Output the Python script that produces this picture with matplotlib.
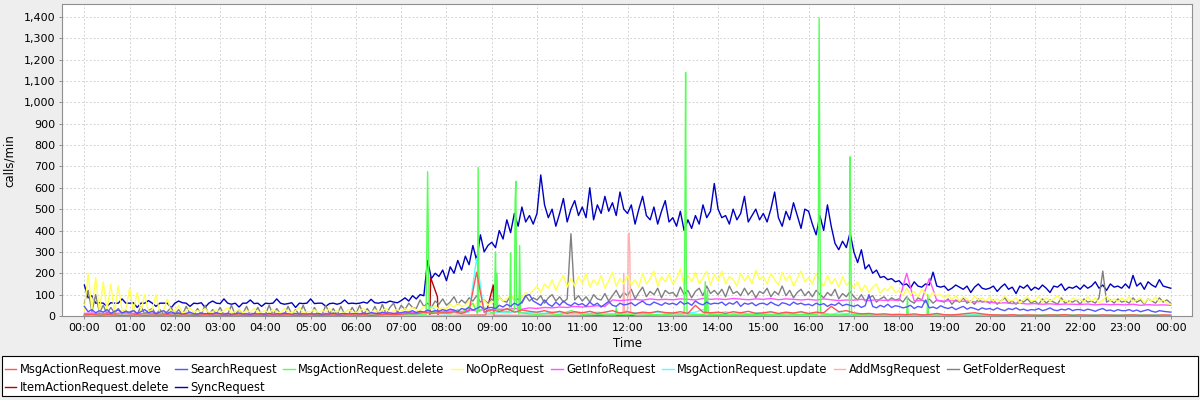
import numpy as np
import matplotlib.pyplot as plt
import matplotlib.ticker as ticker
from matplotlib.patches import Rectangle

# ---- data ----
# 5-minute samples from 00:00 to 24:00 (12 per row = one hour)
sync_request = [
    145, 85, 95, 60, 62, 60, 45, 62, 60, 60, 80, 60,
    60, 62, 40, 60, 60, 72, 60, 45, 60, 60, 60, 38,
    60, 70, 62, 60, 45, 60, 58, 62, 40, 60, 70, 60,
    58, 80, 60, 55, 60, 42, 60, 60, 75, 58, 60, 45,
    60, 58, 60, 80, 60, 55, 58, 62, 40, 60, 58, 60,
    80, 58, 60, 60, 45, 58, 60, 55, 60, 75, 58, 60,
    58, 60, 65, 60, 78, 62, 60, 65, 62, 70, 65, 62,
    72, 85, 70, 95, 80, 100, 95, 260, 175, 200, 185, 215,
    165, 230, 200, 260, 215, 280, 240, 330, 260, 380, 300, 330,
    345, 320, 400, 360, 450, 390, 480, 420, 510, 440, 470, 430,
    480, 660, 520, 460, 500, 420, 480, 550, 440, 500, 540, 470,
    510, 460, 600, 450, 520, 480, 560, 490, 530, 470, 580, 500,
    480, 520, 430, 500, 560, 470, 450, 510, 430, 490, 540, 440,
    460, 420, 490, 400, 450, 410, 470, 430, 520, 460, 490, 620,
    500, 460, 470, 430, 500, 450, 480, 560, 440, 470, 500, 450,
    480, 440, 500, 580, 460, 420, 490, 450, 530, 470, 410, 500,
    490, 430, 380, 470, 400, 520, 420, 340, 310, 350, 320, 390,
    300, 250, 310, 220, 240, 200, 215, 180, 185, 170, 175, 160,
    165, 145, 150, 130, 160, 140, 135, 150, 145, 205, 140, 135,
    140, 120, 130, 145, 135, 125, 140, 110, 135, 150, 130, 125,
    130, 140, 115, 135, 150, 125, 135, 105, 140, 130, 145, 120,
    135, 125, 145, 130, 110, 140, 135, 150, 120, 135, 130, 140,
    125, 145, 130, 140, 160, 130, 145, 120, 150, 135, 140, 130,
    150, 130, 190, 140, 155, 125, 160, 145, 135, 170, 140, 135,
    130,
]

noop_request = [
    25, 200, 30, 180, 20, 160, 25, 150, 20, 140, 25, 30,
    130, 20, 110, 25, 100, 20, 30, 100, 15, 25, 80, 20,
    25, 50, 15, 20, 40, 15, 25, 20, 35, 15, 20, 30,
    15, 25, 40, 15, 20, 30, 15, 25, 20, 35, 15, 20,
    25, 15, 30, 20, 15, 35, 20, 15, 25, 40, 15, 20,
    20, 30, 15, 25, 20, 35, 15, 25, 20, 15, 30, 20,
    15, 25, 35, 20, 15, 30, 20, 25, 35, 15, 25, 30,
    20, 35, 25, 40, 30, 25, 45, 30, 35, 50, 30, 40,
    35, 55, 40, 60, 45, 50, 70, 45, 60, 55, 75, 50,
    70, 60, 90, 70, 80, 100, 75, 95, 85, 110, 100, 120,
    140, 110, 150, 130, 170, 120, 160, 190, 135, 175, 140, 185,
    150, 200, 135, 170, 145, 190, 130, 165, 205, 140, 175, 150,
    190, 145, 170, 135, 200, 150, 175, 210, 140, 185, 160, 195,
    150, 175, 220, 140, 190, 160, 205, 150, 180, 210, 145, 195,
    165, 210, 150, 185, 170, 140, 200, 165, 190, 150, 215, 170,
    185, 150, 200, 170, 145, 205, 165, 190, 140, 175, 210, 160,
    180, 150, 200, 165, 140, 190, 150, 175, 135, 185, 145, 160,
    130, 160, 115, 145, 110, 135, 150, 105, 130, 120, 140, 110,
    120, 95, 130, 100, 115, 90, 125, 105, 85, 110, 95, 100,
    85, 100, 75, 95, 70, 90, 80, 65, 95, 75, 85, 70,
    90, 70, 80, 65, 95, 75, 70, 85, 60, 80, 90, 70,
    75, 90, 65, 85, 70, 80, 95, 70, 75, 60, 85, 75,
    80, 65, 90, 70, 85, 60, 75, 95, 70, 80, 65, 85,
    70, 90, 65, 75, 85, 60, 80, 70, 90, 65, 75, 60,
    55,
]

get_folder_request = [
    60, 120, 20, 100, 15, 50, 10, 40, 15, 35, 10, 25,
    10, 30, 8, 45, 10, 25, 35, 8, 30, 10, 20, 40,
    8, 30, 5, 45, 10, 5, 35, 8, 50, 5, 30, 10,
    40, 5, 8, 50, 5, 30, 10, 45, 5, 8, 40, 5,
    8, 50, 5, 35, 10, 5, 45, 8, 30, 5, 50, 8,
    5, 40, 8, 5, 50, 10, 35, 5, 45, 8, 5, 40,
    10, 50, 5, 35, 8, 45, 10, 55, 8, 40, 60, 15,
    50, 30, 60, 40, 35, 75, 45, 60, 40, 70, 55, 80,
    50, 65, 90, 55, 75, 60, 85, 70, 95, 65, 75, 60,
    80, 55, 90, 70, 65, 100, 75, 80, 60, 95, 70, 85,
    75, 95, 60, 85, 100, 70, 90, 65, 80, 385, 75, 95,
    70, 90, 65, 100, 80, 75, 105, 70, 95, 120, 85, 110,
    95, 125, 80, 110, 135, 90, 115, 100, 130, 85, 120, 105,
    110, 90, 135, 100, 120, 85, 115, 130, 95, 140, 105, 120,
    100, 125, 90, 140, 105, 115, 95, 130, 100, 120, 85, 115,
    105, 130, 90, 115, 100, 140, 95, 120, 85, 110, 125, 95,
    115, 90, 120, 100, 85, 110, 95, 125, 80, 105, 90, 115,
    90, 75, 100, 70, 85, 95, 65, 80, 90, 70, 85, 75,
    80, 65, 90, 70, 60, 85, 75, 65, 80, 60, 75, 70,
    65, 80, 55, 75, 65, 85, 60, 70, 55, 80, 65, 70,
    60, 75, 55, 70, 85, 60, 70, 55, 75, 65, 80, 60,
    70, 55, 80, 60, 75, 65, 55, 85, 60, 70, 65, 75,
    55, 80, 65, 70, 60, 85, 210, 65, 75, 60, 80, 65,
    70, 60, 85, 65, 75, 55, 80, 70, 60, 85, 65, 75,
    60,
]

search_request = [
    45, 20, 30, 15, 25, 18, 30, 12, 22, 28, 15, 20,
    18, 25, 12, 20, 30, 15, 22, 10, 18, 25, 12, 20,
    10, 15, 8, 12, 18, 10, 8, 14, 10, 12, 8, 15,
    10, 8, 12, 6, 10, 14, 8, 10, 6, 12, 8, 10,
    8, 12, 6, 10, 8, 14, 10, 6, 12, 8, 10, 7,
    10, 8, 12, 6, 10, 8, 14, 7, 10, 12, 8, 10,
    12, 8, 14, 10, 16, 12, 10, 18, 12, 15, 10, 14,
    15, 20, 18, 25, 15, 22, 18, 28, 20, 25, 22, 30,
    25, 32, 28, 20, 35, 30, 40, 28, 35, 45, 30, 38,
    40, 35, 50, 42, 55, 45, 60, 50, 65, 95, 100, 70,
    60, 50, 75, 55, 45, 65, 50, 70, 55, 48, 62, 52,
    58, 45, 65, 50, 60, 42, 55, 68, 50, 45, 60, 52,
    55, 62, 48, 60, 70, 55, 52, 65, 58, 50, 62, 55,
    60, 52, 68, 55, 62, 50, 70, 58, 52, 65, 55, 60,
    58, 65, 50, 62, 55, 68, 45, 60, 55, 62, 48, 58,
    60, 52, 65, 55, 48, 62, 58, 50, 65, 55, 60, 52,
    55, 48, 60, 52, 58, 45, 55, 50, 62, 48, 55, 50,
    45, 52, 40, 48, 100, 45, 38, 50, 42, 55, 40, 48,
    45, 38, 42, 50, 35, 45, 40, 75, 38, 42, 35, 48,
    40, 35, 42, 30, 38, 45, 32, 40, 35, 28, 38, 32,
    35, 28, 38, 30, 25, 35, 30, 38, 28, 32, 25, 30,
    28, 35, 25, 30, 38, 28, 25, 32, 28, 35, 25, 30,
    30, 25, 32, 28, 22, 30, 35, 25, 28, 22, 30, 25,
    25, 30, 22, 28, 20, 25, 30, 22, 18, 25, 22, 20,
    18,
]

# 10-minute samples (6 per row = one hour)
get_info_request = [
    12, 14, 12, 13, 12, 14,
    13, 12, 11, 13, 12, 11,
    12, 11, 12, 10, 11, 12,
    11, 12, 10, 11, 12, 11,
    10, 11, 12, 11, 10, 12,
    11, 10, 12, 11, 10, 11,
    12, 11, 13, 12, 14, 13,
    14, 16, 18, 20, 18, 22,
    22, 25, 20, 28, 25, 30,
    28, 32, 30, 35, 32, 38,
    35, 40, 38, 42, 40, 45,
    42, 45, 48, 45, 75, 72,
    75, 78, 74, 80, 76, 78,
    76, 80, 78, 75, 82, 78,
    80, 77, 82, 79, 76, 80,
    78, 82, 76, 80, 78, 75,
    78, 74, 80, 76, 72, 75,
    74, 78, 72, 76, 73, 75,
    72, 200, 70, 74, 175, 72,
    70, 72, 68, 70, 66, 68,
    65, 60, 62, 58, 60, 56,
    58, 55, 57, 54, 56, 55,
    54, 56, 52, 55, 53, 54,
    52, 55, 50, 53, 51, 52,
    50,
]

msg_update = [
    4, 3, 5, 2, 4, 3,
    3, 4, 2, 3, 5, 3,
    2, 3, 4, 2, 3, 2,
    3, 2, 3, 4, 2, 3,
    2, 3, 2, 3, 2, 4,
    3, 2, 4, 2, 3, 2,
    3, 4, 2, 5, 3, 4,
    5, 8, 6, 10, 45, 12,
    10, 15, 12, 18, 270, 15,
    12, 18, 14, 20, 15, 18,
    15, 12, 20, 14, 18, 12,
    16, 12, 18, 14, 10, 15,
    12, 16, 10, 14, 18, 12,
    15, 10, 14, 18, 30, 12,
    14, 20, 12, 16, 10, 15,
    12, 15, 10, 14, 12, 16,
    10, 14, 12, 8, 15, 10,
    8, 6, 10, 5, 7, 6,
    5, 7, 4, 6, 5, 4,
    4, 5, 3, 4, 6, 3,
    4, 3, 5, 3, 4, 3,
    3, 4, 3, 5, 3, 4,
    4, 3, 5, 3, 4, 3,
    3, 4, 3, 4, 5, 3,
    3,
]

msg_move = [
    5, 8, 4, 6, 5, 3,
    4, 6, 3, 5, 4, 6,
    3, 5, 4, 3, 6, 4,
    4, 3, 5, 4, 3, 5,
    3, 5, 4, 6, 3, 4,
    5, 3, 4, 5, 3, 6,
    4, 6, 3, 5, 8, 6,
    8, 12, 10, 18, 12, 15,
    15, 20, 12, 25, 205, 18,
    30, 20, 35, 18, 28, 22,
    18, 25, 15, 22, 12, 20,
    15, 22, 12, 18, 25, 14,
    20, 12, 18, 15, 22, 16,
    14, 20, 12, 50, 18, 15,
    18, 12, 20, 15, 22, 12,
    15, 20, 12, 18, 14, 20,
    12, 18, 15, 45, 20, 25,
    15, 10, 12, 8, 10, 7,
    8, 6, 10, 5, 7, 12,
    6, 5, 8, 12, 15, 10,
    6, 5, 4, 6, 3, 5,
    4, 3, 5, 4, 6, 3,
    5, 4, 3, 5, 4, 3,
    4, 5, 3, 4, 3, 5,
    4,
]

# sparse series: (minute of day, value)
msg_delete_min = [0, 30, 60, 90, 120, 140, 150, 180, 210, 240, 270, 300, 330,
                  360, 390, 420, 440, 453, 455, 457, 470, 485, 495, 500, 515,
                  521, 522, 523, 530, 540, 543, 544, 545, 546, 547, 548, 560,
                  563, 564, 565, 566, 570, 571, 572, 573, 576, 577, 578, 590,
                  600, 615, 630, 645, 660, 675, 690, 704, 705, 706, 720, 735,
                  750, 765, 780, 795, 796, 797, 798, 799, 810, 822, 823, 824,
                  826, 827, 840, 855, 870, 885, 900, 915, 930, 945, 960, 972,
                  973, 974, 975, 976, 990, 1005, 1014, 1015, 1016, 1017, 1030,
                  1045, 1060, 1080, 1090, 1091, 1092, 1110, 1117, 1118, 1119,
                  1140, 1170, 1200, 1230, 1260, 1290, 1320, 1350, 1380, 1410,
                  1440]
msg_delete_val = [3, 5, 2, 4, 3, 12, 3, 2, 4, 2, 3, 5, 2,
                  3, 4, 6, 10, 8, 675, 15, 20, 10, 30, 15, 60,
                  10, 695, 20, 40, 15, 15, 150, 300, 30, 200, 25, 20,
                  20, 80, 295, 20, 30, 540, 630, 60, 10, 330, 15, 10,
                  8, 12, 6, 25, 8, 10, 5, 5, 40, 8, 6, 12,
                  8, 5, 10, 10, 400, 1140, 150, 10, 8, 8, 160, 10,
                  120, 8, 8, 5, 10, 6, 8, 5, 10, 6, 8, 8,
                  400, 1395, 500, 10, 6, 5, 10, 745, 300, 5, 8,
                  4, 5, 3, 4, 90, 4, 3, 4, 100, 4,
                  5, 3, 4, 2, 3, 5, 3, 2, 4, 3,
                  2]

item_delete_min = [0, 458, 459, 468, 469, 532, 542, 543, 1440]
item_delete_val = [0, 0, 180, 90, 0, 5, 145, 0, 0]

add_msg_min = [0, 120, 240, 360, 480, 540, 600, 660, 700, 714, 715, 716,
               720, 721, 722, 723, 724, 730, 780, 840, 900, 960, 1020, 1080,
               1200, 1320, 1440]
add_msg_val = [1, 2, 1, 2, 3, 5, 4, 5, 10, 15, 200, 10,
               30, 380, 388, 300, 20, 5, 4, 5, 4, 3, 4, 2,
               2, 1, 1]

hour_labels = ['%02d:00' % (h % 24) for h in range(25)]

t5 = np.arange(len(sync_request)) * 5 / 60.0
t10 = np.arange(len(get_info_request)) * 10 / 60.0

# legend order (JFreeChart series order) with colours
series = [
    ('MsgActionRequest.move', t10, msg_move, '#FF5555'),
    ('SearchRequest', t5, search_request, '#5555FF'),
    ('MsgActionRequest.delete', np.array(msg_delete_min) / 60.0, msg_delete_val, '#55FF55'),
    ('NoOpRequest', t5, noop_request, '#FFFF55'),
    ('GetInfoRequest', t10, get_info_request, '#FF55FF'),
    ('MsgActionRequest.update', t10, msg_update, '#55FFFF'),
    ('AddMsgRequest', np.array(add_msg_min) / 60.0, add_msg_val, '#FFAFAF'),
    ('GetFolderRequest', t5, get_folder_request, '#808080'),
    ('ItemActionRequest.delete', np.array(item_delete_min) / 60.0, item_delete_val, '#C00000'),
    ('SyncRequest', t5, sync_request, '#0000C0'),
]

plt.rcParams['font.family'] = ['DejaVu Sans']
fig = plt.figure(figsize=(12, 4), dpi=100, facecolor='#eeeeee')
ax = fig.add_axes([0.052, 0.21, 0.9415, 0.779])
ax.set_facecolor('white')

# JFreeChart draws series in reverse order: first series ends on top
handles = {}
for name, x, y, color in reversed(series):
    line, = ax.plot(x, y, color=color, lw=1.0, label=name)
    handles[name] = line

ax.set_xlim(-0.485, 24.475)
ax.set_ylim(0, 1458)
ax.set_xticks(range(25))
ax.set_xticklabels(hour_labels)
ax.yaxis.set_major_locator(ticker.MultipleLocator(100))
ax.yaxis.set_major_formatter(ticker.StrMethodFormatter('{x:,.0f}'))
ax.tick_params(labelsize=8, length=2, width=0.6, color='#808080', pad=3)
ax.grid(True, color='#d4d4d4', linestyle=(0, (2, 2)), linewidth=0.7)
ax.set_axisbelow(True)
for s in ax.spines.values():
    s.set_color('#909090')
    s.set_linewidth(0.8)
ax.set_xlabel('Time', fontsize=8.5, labelpad=3)
ax.set_ylabel('calls/min', fontsize=8.5, labelpad=6)

# legend box at the bottom
fig.patches.append(Rectangle((2 / 1200, 4 / 400), 1196 / 1200, 40 / 400,
                             transform=fig.transFigure, facecolor='white',
                             edgecolor='black', linewidth=0.8))
order = ['MsgActionRequest.move', 'ItemActionRequest.delete', 'SearchRequest',
         'SyncRequest', 'MsgActionRequest.delete', 'NoOpRequest', 'GetInfoRequest',
         'MsgActionRequest.update', 'AddMsgRequest', 'GetFolderRequest']
fig.legend([handles[n] for n in order], order, loc='upper left',
           bbox_to_anchor=(0.0, 0.105), ncol=8, frameon=False, fontsize=8.3,
           handlelength=1.0, handletextpad=0.3, columnspacing=0.55,
           labelspacing=0.45, borderaxespad=0.0)

fig.savefig('out.png', dpi=100, facecolor=fig.get_facecolor())
